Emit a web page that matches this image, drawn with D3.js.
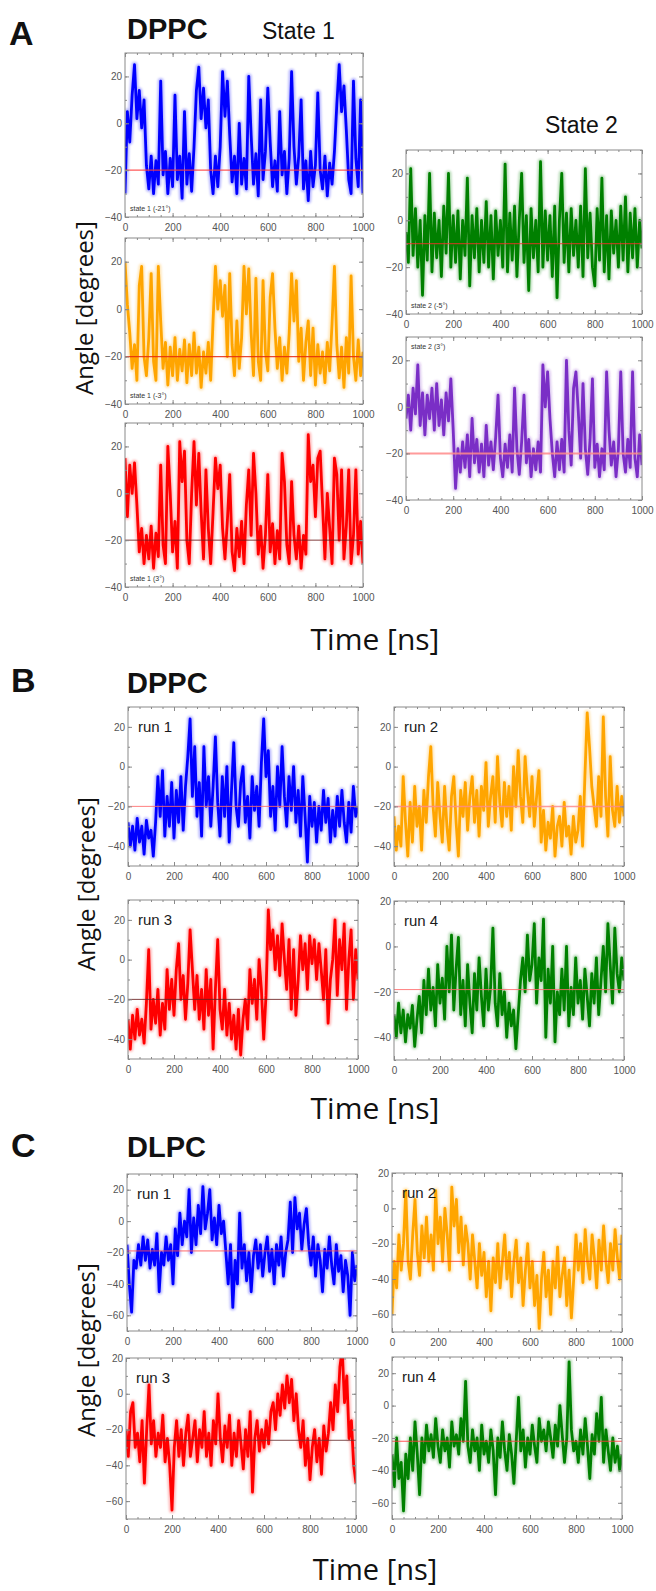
<!DOCTYPE html>
<html>
<head>
<meta charset="utf-8">
<script src="https://cdn.jsdelivr.net/npm/d3@7"></script>
<style>
  body { margin: 0; background: #fff; }
  svg text { font-family: "Liberation Sans", Arial, sans-serif; }
</style>
</head>
<body>
<svg id="fig" width="656" height="1591"></svg>
<script>
// time grid (ns), one reading every 10 ns
var time = d3.range(0, 1001, 10);
var xTicks = [0, 200, 400, 600, 800, 1000];
var yTicks4 = [-40, -20, 0, 20];
var yTicks5 = [-60, -40, -20, 0, 20];

// A - DPPC, state 1 / state 2 runs (angle in degrees)
var aState1m21 = [-30,5,-8,12,25,2,14,-2,10,-18,-28,-14,-30,-16,-26,18,-22,-12,-30,-15,-27,12,-24,-14,-32,5,-26,-13,-29,-10,
  14,24,2,15,-2,10,-20,-30,-14,-27,-10,22,3,18,-5,-25,-14,-30,0,-26,-15,-28,20,-5,-26,-13,-31,10,-24,-12,
  15,-8,-27,-16,-29,5,-22,-12,-30,-15,22,-10,-26,-14,10,-28,-16,-33,-12,-27,-18,13,-20,-28,-14,-31,-17,-26,-12,8,
  25,5,16,-3,-24,-30,18,-15,-27,10,-30];
var aState1m3 = [20,2,-10,-25,-15,-30,10,18,-20,-28,-12,15,-22,-30,18,-5,-25,-14,-32,-16,-28,-12,-30,-17,-26,-13,-31,-15,-28,-10,
  -27,-16,-33,-18,-27,-14,-30,-5,18,0,12,-3,10,-20,15,-15,-28,-5,-25,-12,18,-2,17,-10,-28,13,-22,-30,12,-18,
  -26,5,15,-8,-25,-12,-30,-16,-27,-10,15,-5,12,-22,-8,-30,-14,-5,-28,-8,-32,-15,-27,-18,-31,-14,-26,-6,18,-15,
  -29,-16,-33,-12,-27,14,-20,-30,-13,-28,-18];
var aState1p3 = [15,-10,12,0,13,-5,-25,-15,-30,-18,-28,-14,-32,-17,-27,12,-22,-30,20,0,-25,-12,-32,22,5,18,-20,-30,0,22,
  -5,17,-8,-28,10,-15,-30,-8,15,2,12,-15,-28,-12,8,-25,-33,-15,-27,-12,-30,-5,10,-18,17,0,-26,-14,-32,-18,
  8,-25,-13,-30,-16,-28,17,5,-22,-30,5,-18,-28,-14,-32,-18,-26,25,5,12,-10,15,18,-5,-28,0,-15,-30,15,8,
  -20,10,-28,-14,10,-30,-18,10,-26,-12,-30];
var aState2m5 = [-5,-18,22,-15,5,-20,0,-32,2,-17,20,-22,3,-16,0,-24,6,-14,20,-20,2,-18,4,-25,0,-15,18,-28,2,-16,
  5,-22,0,-18,8,-20,2,-25,4,-15,0,-20,24,-22,3,-17,6,-24,0,20,-18,2,-30,5,-16,0,-22,25,-20,4,
  -17,2,-24,6,-33,0,20,-18,3,-22,5,-15,0,-20,6,-24,22,-16,3,-20,-28,5,-17,18,-22,2,-25,4,-14,0,
  -20,6,-17,10,-22,3,-16,5,-20,0,-12];
var aState2p3 = [-5,5,-10,8,-3,18,-8,6,-12,5,-5,8,-10,10,-8,3,-12,6,-6,12,-10,-35,-18,-28,-15,-26,-12,-30,-5,-24,
  -14,-28,-16,-30,-8,-25,-15,-27,-13,5,-22,-30,-16,-26,-12,-28,8,-18,-29,-15,5,-24,-14,-30,-18,-27,-15,-28,18,0,
  15,-5,-20,-30,-15,-27,-14,-28,20,-10,-25,8,15,-2,-22,10,-18,-29,-14,12,-26,-16,-30,-18,-27,15,-10,-25,-15,-30,
  -18,15,-20,-28,-14,-26,15,-22,-30,-12,-25];

// B - DPPC, runs 1-4
var bRun1 = [-28,-40,-30,-42,-26,-38,-30,-44,-27,-36,-32,-45,-28,-5,-25,-2,-35,-15,-30,-8,-36,-12,-28,-5,-32,-10,5,24,-15,10,
  -25,-8,-35,10,-20,-5,-30,-10,15,-18,-35,-5,-25,0,-38,-12,12,-20,-30,-8,0,-28,-15,-36,-5,-22,-10,-30,2,24,
  -5,8,-25,-10,-32,0,-20,10,-15,-30,-5,-22,0,-28,-12,-35,-5,-25,-48,-15,-30,-18,-38,-20,-32,-12,-28,-16,-38,-22,
  -35,-15,-30,-12,-28,-38,-18,-33,-10,-25,-20];
var bRun2 = [-25,-42,-30,-40,-5,-28,-45,-18,-38,-10,-30,-20,-42,-12,-28,-5,10,-20,-35,-8,-25,-38,-10,-30,-42,-15,-5,-28,-45,-12,
  -25,-8,-32,-15,-5,-28,-12,-35,-10,-22,2,-30,-15,-5,-28,5,-18,-30,-8,-25,-10,-32,0,-20,8,-15,-28,5,-12,-25,
  -5,-30,-15,-2,-38,-22,-42,-28,-36,-20,-45,-30,-25,-40,-18,-35,-30,-44,-25,-38,-32,-15,-40,-5,27,10,-10,-20,-30,-5,
  -25,25,-15,-35,5,-22,-30,-10,-28,-15,-25];
var bRun3 = [-30,-45,-28,-40,-25,-38,-30,-42,-22,5,-35,-20,-32,-15,-38,-22,-35,-5,-25,-10,-28,-5,8,-20,-8,-30,-12,15,-5,-25,
  -8,-30,-15,-35,-5,-28,-10,-45,-15,10,-25,-35,-15,-38,-22,-40,-28,-45,-25,-48,-30,-20,-35,-5,-22,-10,-30,0,-15,-40,
  -18,25,5,15,-5,12,-8,18,0,-15,10,-25,5,-28,-10,12,-5,8,-15,12,-2,10,-10,8,-5,-20,5,-32,-10,0,
  20,-18,10,-5,18,-25,0,15,-20,5,-10];
var bRun4 = [-30,-40,-25,-38,-28,-42,-30,-36,-26,-44,-32,-22,-38,-15,-30,-10,-28,-18,-35,-8,-25,-14,-32,0,-20,5,-28,-10,4,-30,
  -15,-35,-8,-25,-38,-12,-28,-5,-22,-35,-10,-28,-18,8,-25,-35,-12,-30,-20,-40,-25,-35,-28,-45,-30,-15,-5,-20,5,-15,
  -8,10,-25,-5,-15,12,-40,-10,-25,0,-42,-20,-30,-10,-28,0,-35,-18,-30,-5,-25,-15,-32,-10,-22,-35,-12,-25,-5,-30,
  -15,0,-20,10,-8,-25,8,-12,-20,-5,-15];

// C - DLPC, runs 1-4
var cRun1 = [-15,-40,-58,-25,-30,-15,-28,-10,-25,-12,-30,-18,-28,-8,-45,-20,-28,-10,-25,-15,-40,-5,-22,5,-15,0,-10,20,-20,2,
  -15,10,-8,22,-5,5,20,-12,2,-15,10,-8,0,-20,-40,-15,-55,-25,-40,5,-30,-15,-38,-20,-45,-22,-12,-30,-15,-35,
  -20,-10,-32,-18,-40,-15,-28,-10,-35,-20,-12,12,-20,15,-5,5,-18,-2,8,-15,-28,-10,-35,-15,-25,-45,-18,-30,-10,-28,
  -40,-15,-32,-22,-45,-25,-35,-60,-20,-38,-28];
var cRun2 = [-60,-30,-45,-15,-35,-20,10,-30,-40,-15,5,-25,-38,-10,-28,-5,-30,-15,-35,10,-20,-5,-30,0,-15,-35,12,-10,5,-25,
  -5,-32,-10,-20,-40,-15,-30,-45,-20,-38,-25,-50,-30,-58,-28,-42,-20,-45,-30,-15,-40,-25,-50,-30,-18,-42,-28,-55,-35,-20,
  -45,-30,-55,-38,-68,-40,-25,-50,-35,-60,-30,-45,-22,-50,-38,-28,-55,-35,-62,-40,-15,-35,-20,-42,-12,-30,-40,-15,-28,-45,
  -18,-35,-10,-30,-42,-20,-35,-12,-28,-40,-15];
var cRun3 = [-20,-35,-10,-5,-30,-22,-38,-15,-50,-20,5,-28,-15,-35,-22,-30,-12,-38,-25,-40,-65,-30,-15,-35,-20,-40,-22,-12,-35,-25,
  -15,-38,-20,-30,-10,-35,-22,-40,-15,-28,0,-25,-38,-18,-30,-12,-40,-22,-35,-15,-28,-42,-20,-35,-10,-55,-25,-15,-32,-20,
  -30,-15,-28,-10,-5,-20,0,-12,5,-8,10,-5,8,-15,0,-20,-30,-15,-40,-25,-48,-30,-20,-38,-25,-45,-18,-32,-22,-5,
  -20,5,-10,15,25,-5,10,-25,-15,-40,-50];
var cRun4 = [-30,-50,-20,-45,-35,-65,-30,-45,-20,-40,-10,-30,-55,-20,-35,-12,-28,-18,-32,-8,-25,-35,-15,-28,-20,-38,-10,-25,-18,-30,
  -8,-22,15,-25,-35,-15,-28,-20,-40,-12,-30,-22,-35,-15,-28,-55,-20,-32,-10,-28,-40,-18,-30,-48,-22,5,-28,-15,-38,-20,
  -30,-12,-25,-35,-8,-22,-15,-28,-10,-20,-32,-12,-25,0,-18,-35,-20,27,-15,-28,-22,-35,-15,-30,-8,-25,-45,-18,-30,-5,
  -22,5,-35,-15,-28,-40,-20,-35,-25,-40,-30];

var svg = d3.select("#fig");

var defs = svg.append("defs");
defs.append("filter").attr("id", "soft")
  .append("feGaussianBlur").attr("stdDeviation", 1);

var panels = [
  {data: aState1m21, color: "#0000ff", ref: -20, refColor: "#ff3b3b", refW: 1.2, box: [125, 53, 363, 217], dom: [-40, 30], ticks: yTicks4, note: "state 1 (-21\u00b0)", noteAt: "bottom"},
  {data: aState1m3, color: "#ffa500", ref: -20, refColor: "#e8280c", refW: 1.2, box: [125, 238, 363, 404], dom: [-40, 30], ticks: yTicks4, note: "state 1 (-3\u00b0)", noteAt: "bottom"},
  {data: aState1p3, color: "#ff0000", ref: -20, refColor: "#6a1a1a", refW: 1, box: [125, 423, 363, 587], dom: [-40, 30], ticks: yTicks4, note: "state 1 (3\u00b0)", noteAt: "bottom"},
  {data: aState2m5, color: "#008000", ref: -10, refColor: "#ff2a2a", refW: 1, box: [406, 150, 642, 314], dom: [-40, 30], ticks: yTicks4, note: "state 2 (-5\u00b0)", noteAt: "bottom"},
  {data: aState2p3, color: "#7a2ec6", ref: -20, refColor: "#ff8a8a", refW: 2, box: [406, 337, 642, 500], dom: [-40, 30], ticks: yTicks4, note: "state 2 (3\u00b0)", noteAt: "top"},
  {data: bRun1, color: "#0000ff", ref: -20, refColor: "#ff6a6a", refW: 1, box: [128, 707, 358, 866], dom: [-50, 30], ticks: yTicks4, run: "run 1"},
  {data: bRun2, color: "#ffa500", ref: -20, refColor: "#ff8a8a", refW: 1.5, box: [394, 707, 624, 866], dom: [-50, 30], ticks: yTicks4, run: "run 2"},
  {data: bRun3, color: "#ff0000", ref: -20, refColor: "#6a2020", refW: 1, box: [128, 900, 358, 1059], dom: [-50, 30], ticks: yTicks4, run: "run 3"},
  {data: bRun4, color: "#008000", ref: -19, refColor: "#ff6a6a", refW: 1, box: [394, 901, 624, 1060], dom: [-50, 20], ticks: yTicks4, run: "run 4"},
  {data: cRun1, color: "#0000ff", ref: -19, refColor: "#ff5050", refW: 1, box: [127, 1174, 357, 1331], dom: [-70, 30], ticks: yTicks5, run: "run 1"},
  {data: cRun2, color: "#ffa500", ref: -30, refColor: "#ff3a1a", refW: 1, box: [392, 1173, 622, 1332], dom: [-70, 20], ticks: yTicks5, run: "run 2"},
  {data: cRun3, color: "#ff0000", ref: -26, refColor: "#6a3030", refW: 1, box: [126, 1358, 356, 1519], dom: [-70, 20], ticks: yTicks5, run: "run 3"},
  {data: cRun4, color: "#008000", ref: -22, refColor: "#ff3a3a", refW: 1, box: [392, 1357, 622, 1519], dom: [-70, 30], ticks: yTicks5, run: "run 4"}
];

panels.forEach(function(p, i) { drawPanel(p, i); });

function drawPanel(p, i) {
  var x0 = p.box[0], y0 = p.box[1], x1 = p.box[2], y1 = p.box[3];
  var x = d3.scaleLinear().domain([0, 1000]).range([x0, x1]);
  var y = d3.scaleLinear().domain(p.dom).range([y1, y0]);

  defs.append("clipPath").attr("id", "clip" + i)
    .append("rect").attr("x", x0).attr("y", y0).attr("width", x1 - x0).attr("height", y1 - y0);

  var g = svg.append("g");
  var plot = g.append("g").attr("clip-path", "url(#clip" + i + ")");

  var line = d3.line()
    .x(function(d, k) { return x(time[k]); })
    .y(function(d) { return y(d); });

  // blurred halo gives the faded fringe, then the trace itself
  plot.append("path").datum(p.data)
    .attr("d", line).attr("fill", "none")
    .attr("stroke", p.color).attr("stroke-width", 6).attr("stroke-opacity", 0.28)
    .attr("stroke-linejoin", "round")
    .attr("filter", "url(#soft)");
  plot.append("path").datum(p.data)
    .attr("d", line).attr("fill", "none")
    .attr("stroke", p.color).attr("stroke-width", 2.8)
    .attr("stroke-linejoin", "round");

  // reference angle
  plot.append("line")
    .attr("x1", x0).attr("x2", x1)
    .attr("y1", y(p.ref)).attr("y2", y(p.ref))
    .attr("stroke", p.refColor).attr("stroke-width", p.refW).attr("stroke-opacity", 0.85);

  // frame
  g.append("rect").attr("x", x0).attr("y", y0)
    .attr("width", x1 - x0).attr("height", y1 - y0)
    .attr("fill", "none").attr("stroke", "#8a8a8a").attr("stroke-width", 1);

  var minorX = d3.range(0, 1001, 50);
  var minorY = d3.range(Math.ceil(p.dom[0] / 10) * 10, p.dom[1] + 0.1, 10);
  var fmt = d3.format("d");

  // bottom axis with labels, ticks pointing inwards
  g.append("g").attr("transform", "translate(0," + y1 + ")")
    .call(d3.axisBottom(x).tickValues(xTicks).tickFormat(fmt).tickSizeInner(-4).tickSizeOuter(0).tickPadding(7));
  g.append("g").attr("transform", "translate(0," + y1 + ")")
    .call(d3.axisBottom(x).tickValues(minorX).tickSizeInner(-2).tickSizeOuter(0).tickFormat(""));
  g.append("g").attr("transform", "translate(0," + y0 + ")")
    .call(d3.axisTop(x).tickValues(minorX).tickSizeInner(-2).tickSizeOuter(0).tickFormat(""));
  g.append("g").attr("transform", "translate(0," + y0 + ")")
    .call(d3.axisTop(x).tickValues(xTicks).tickSizeInner(-4).tickSizeOuter(0).tickFormat(""));

  g.append("g").attr("transform", "translate(" + x0 + ",0)")
    .call(d3.axisLeft(y).tickValues(p.ticks).tickFormat(fmt).tickSizeInner(-4).tickSizeOuter(0).tickPadding(3));
  g.append("g").attr("transform", "translate(" + x0 + ",0)")
    .call(d3.axisLeft(y).tickValues(minorY).tickSizeInner(-2).tickSizeOuter(0).tickFormat(""));
  g.append("g").attr("transform", "translate(" + x1 + ",0)")
    .call(d3.axisRight(y).tickValues(minorY).tickSizeInner(-2).tickSizeOuter(0).tickFormat(""));
  g.append("g").attr("transform", "translate(" + x1 + ",0)")
    .call(d3.axisRight(y).tickValues(p.ticks).tickSizeInner(-4).tickSizeOuter(0).tickFormat(""));

  g.selectAll(".domain").remove();
  g.selectAll(".tick line").attr("stroke", "#8a8a8a");
  g.selectAll(".tick text")
    .attr("fill", "#555")
    .style("font-family", "'Liberation Sans', Arial, sans-serif")
    .style("font-size", "10px");

  if (p.note) {
    g.append("text")
      .attr("x", x0 + 5)
      .attr("y", p.noteAt === "top" ? y0 + 12 : y1 - 6)
      .attr("font-size", 7).attr("fill", "#333")
      .text(p.note);
  }
  if (p.run) {
    g.append("text")
      .attr("x", x0 + 10).attr("y", y0 + 25)
      .attr("font-size", 15).attr("fill", "#1a1a1a")
      .text(p.run);
  }
}

// panel letters, titles and axis titles
function label(txt, xPos, yPos, size, weight, family, anchor) {
  svg.append("text")
    .attr("x", xPos).attr("y", yPos)
    .attr("font-size", size).attr("font-weight", weight || "normal")
    .style("font-family", family || "'Liberation Sans', Arial, sans-serif")
    .attr("text-anchor", anchor || "start")
    .attr("fill", "#111")
    .text(txt);
}

label("A", 9, 45, 34, "bold");
label("DPPC", 127, 39, 29, "bold");
label("State 1", 262, 39, 23);
label("State 2", 545, 133, 23);
label("B", 11, 692, 34, "bold");
label("DPPC", 127, 693, 29, "bold");
label("C", 11, 1157, 34, "bold");
label("DLPC", 127, 1157, 29, "bold");

var sans = "'Open Sans', 'DejaVu Sans', sans-serif";
label("Time [ns]", 375, 650, 30, "normal", sans, "middle");
label("Time [ns]", 375, 1119, 30, "normal", sans, "middle");
label("Time [ns]", 375, 1580, 29, "normal", sans, "middle");

[[85, 308], [87, 884], [87, 1350]].forEach(function(c) {
  svg.append("text")
    .attr("transform", "translate(" + (c[0] + 8) + "," + c[1] + ") rotate(-90)")
    .attr("text-anchor", "middle")
    .attr("font-size", 24)
    .style("font-family", sans)
    .attr("fill", "#111")
    .text("Angle [degrees]");
});
</script>
</body>
</html>
